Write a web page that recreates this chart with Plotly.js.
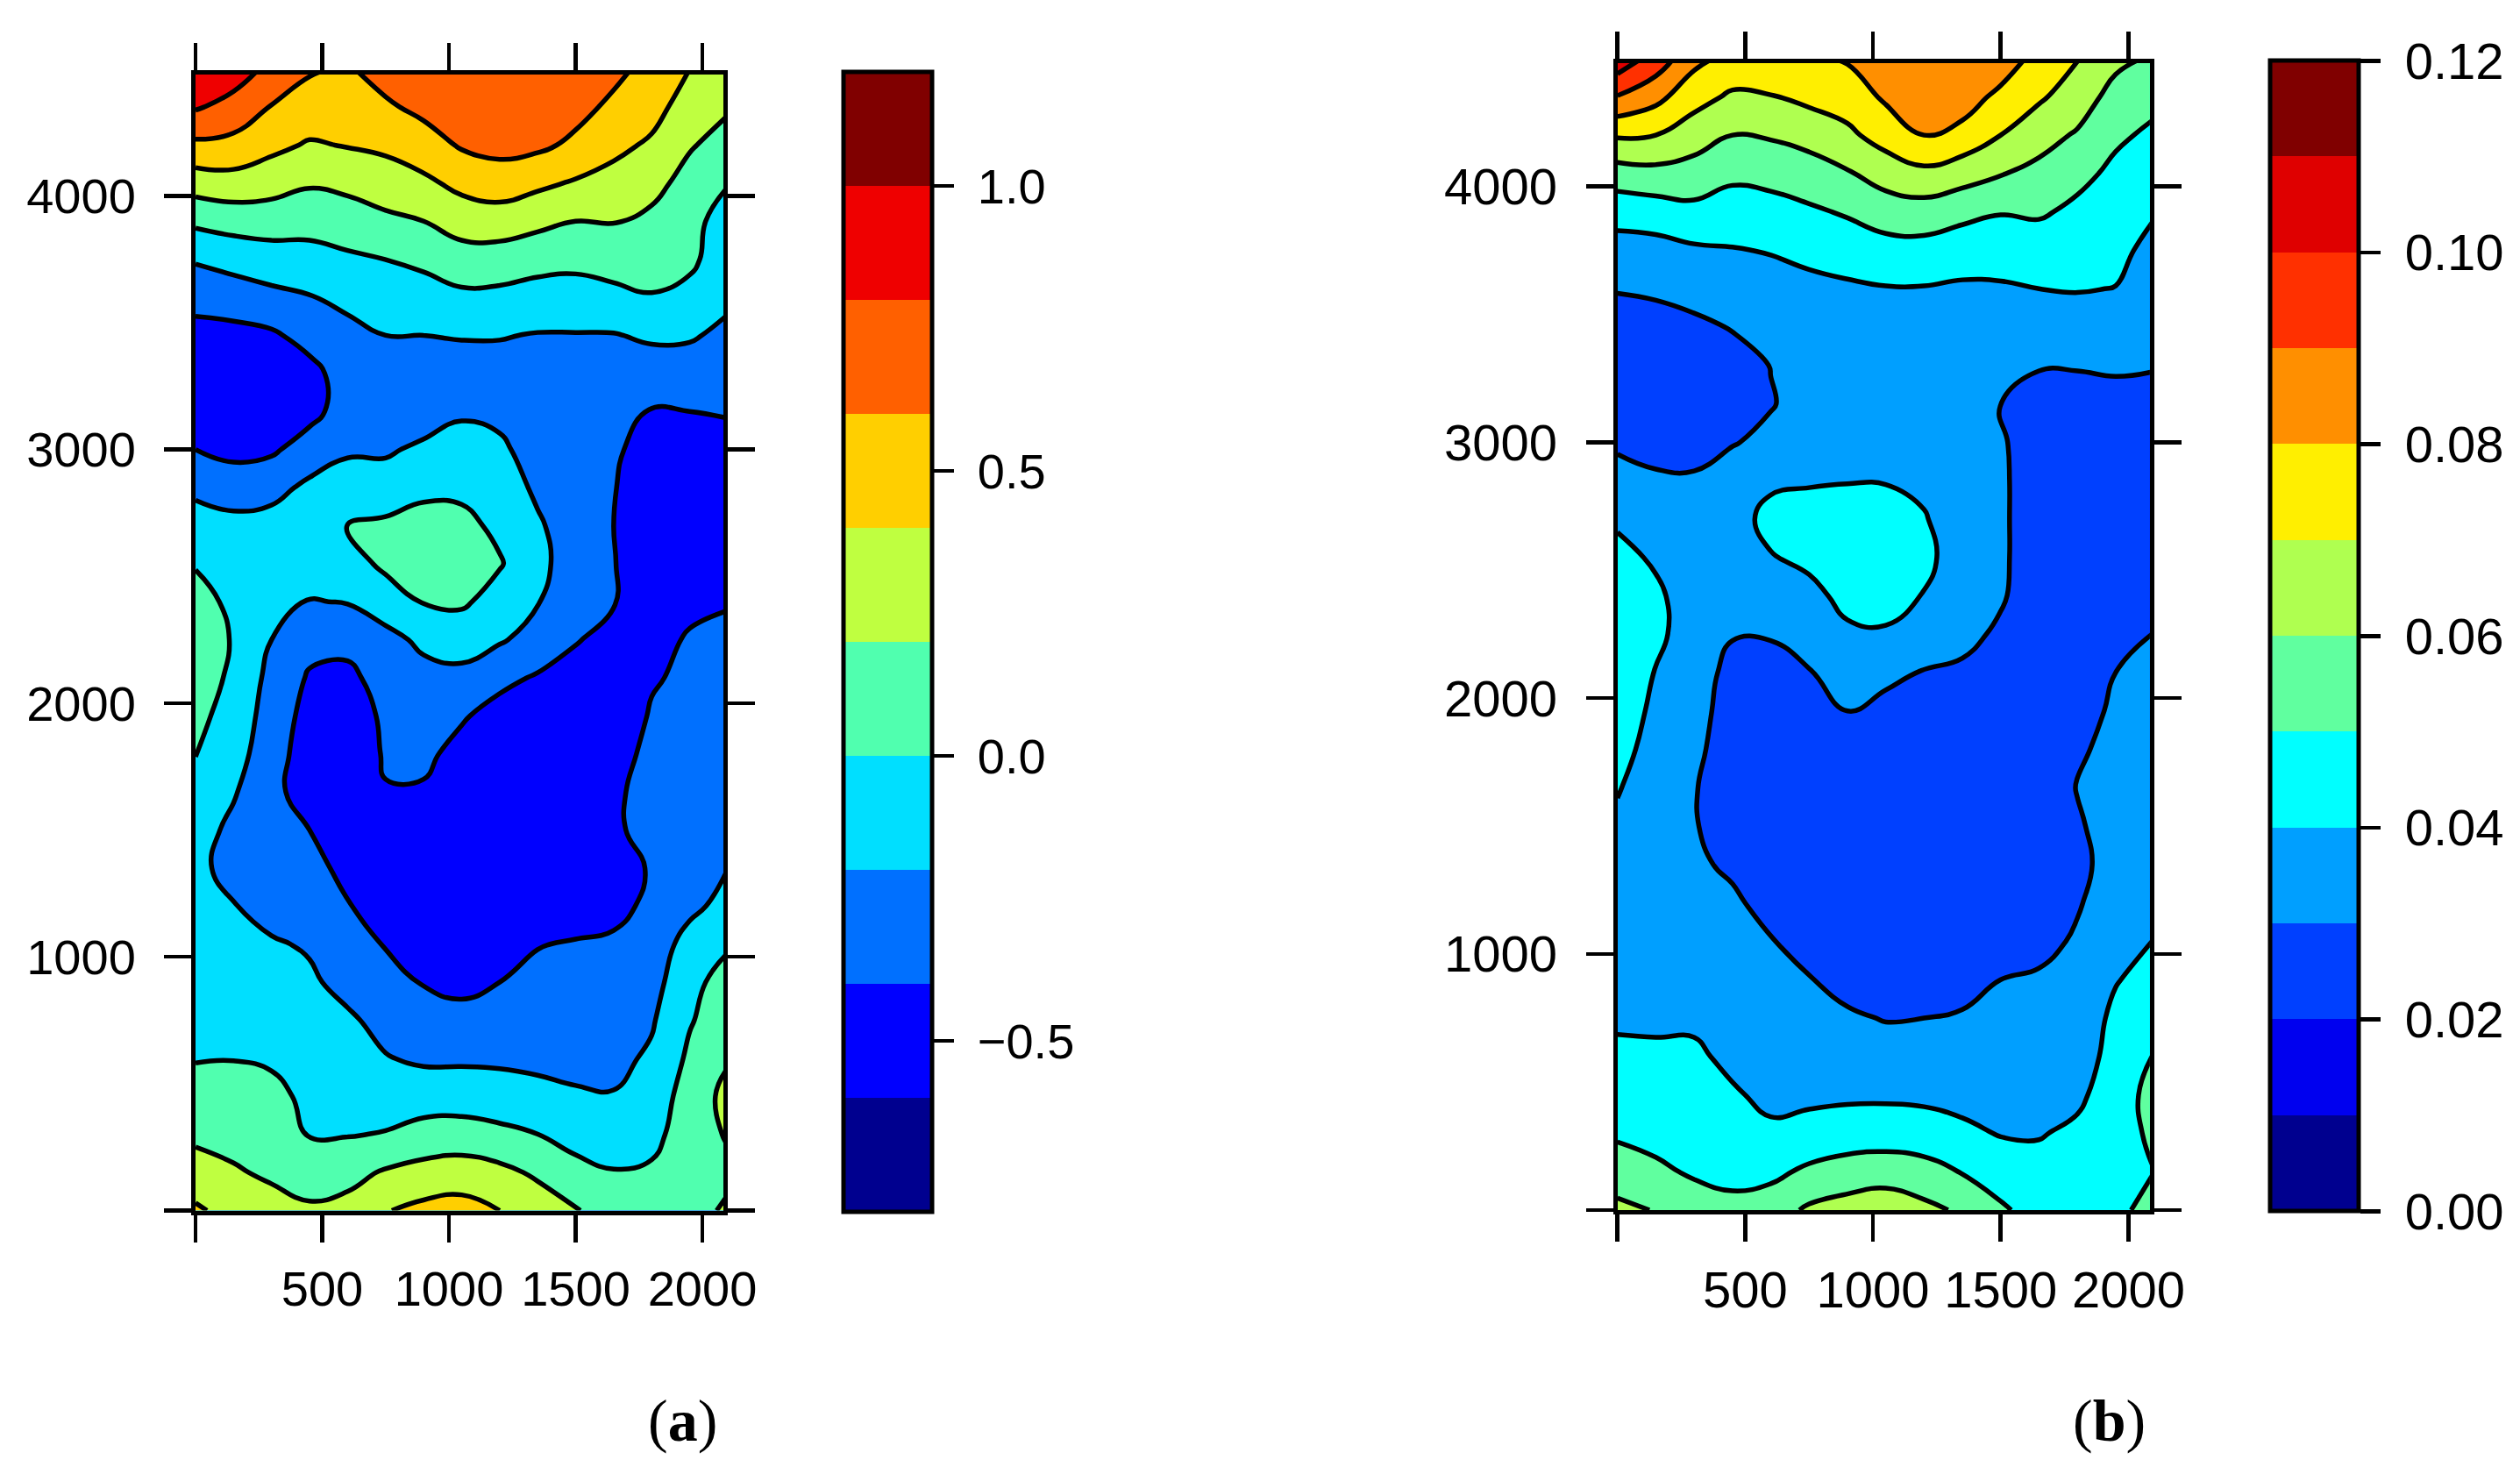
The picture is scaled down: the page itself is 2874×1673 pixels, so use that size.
<!DOCTYPE html>
<html><head><meta charset="utf-8">
<script src="https://cdn.plot.ly/plotly-3.0.1.min.js"></script>
<style>html,body{margin:0;padding:0;background:#fff}#c{width:2874px;height:1673px}</style>
</head><body><div id="c"></div>
<script>
var xValues=[0,150,300,450,600,750,900,1050,1200,1350,1500,1650,1800,1950,2092];
var yValues=[4500,4350,4200,4050,3900,3750,3600,3450,3300,3150,3000,2850,2700,2550,2400,2250,2100,1950,1800,1650,1500,1350,1200,1050,900,750,600,450,300,150,0];
// panel (a): one list per x position, top to bottom
var zaColumns=[
[.97,.82,.56,.29,.04,-.18,-.34,-.46,-.54,-.52,-.40,-.24,-.12,-.01,.05,.08,.08,.04,.005,-.06,-.11,-.14,-.14,-.12,-.09,-.05,-.01,.07,.16,.28,.43],
[.90,.73,.54,.32,.08,-.13,-.30,-.46,-.56,-.56,-.46,-.28,-.15,-.09,-.03,-.01,-.03,-.06,-.11,-.18,-.25,-.28,-.19,-.14,-.10,-.06,-.005,.07,.14,.22,.33],
[.75,.59,.45,.28,.09,-.09,-.25,-.43,-.52,-.54,-.43,-.26,-.13,-.09,-.14,-.20,-.26,-.30,-.33,-.37,-.37,-.34,-.27,-.18,-.13,-.09,-.03,.06,.10,.17,.27],
[.62,.52,.38,.22,.07,-.07,-.21,-.33,-.46,-.46,-.31,-.16,-.07,-.09,-.21,-.34,-.42,-.46,-.48,-.45,-.40,-.33,-.26,-.22,-.17,-.12,-.08,-.05,-.01,.11,.23],
[.58,.49,.41,.25,.10,-.03,-.15,-.26,-.31,-.31,-.22,-.13,.001,-.08,-.19,-.35,-.44,-.52,-.53,-.53,-.50,-.46,-.39,-.32,-.26,-.17,-.11,-.06,-.01,.14,.26],
[.68,.57,.44,.30,.16,.001,-.10,-.20,-.27,-.29,-.22,-.13,.04,.04,-.10,-.26,-.33,-.36,-.38,-.41,-.50,-.50,-.46,-.41,-.34,-.26,-.19,-.09,.01,.22,.39],
[.76,.65,.51,.36,.20,.04,-.08,-.20,-.28,-.28,-.17,-.05,.08,.12,.01,-.16,-.26,-.31,-.36,-.42,-.51,-.56,-.54,-.47,-.41,-.32,-.23,-.09,.07,.27,.45],
[.77,.72,.62,.45,.29,.11,-.04,-.19,-.27,-.22,-.14,-.04,.05,.10,.03,-.12,-.25,-.38,-.46,-.52,-.57,-.58,-.57,-.52,-.44,-.35,-.23,-.09,.08,.30,.47],
[.77,.71,.66,.50,.30,.11,-.05,-.19,-.27,-.24,-.17,-.08,-.04,.015,-.08,-.18,-.35,-.47,-.55,-.58,-.58,-.58,-.57,-.50,-.40,-.30,-.23,-.12,.05,.25,.40],
[.75,.72,.64,.44,.25,.07,-.08,-.21,-.27,-.29,-.27,-.24,-.17,-.13,-.19,-.27,-.42,-.50,-.57,-.58,-.58,-.58,-.55,-.41,-.34,-.29,-.24,-.15,.001,.17,.30],
[.72,.66,.56,.38,.20,.05,-.08,-.21,-.28,-.32,-.34,-.34,-.32,-.33,-.36,-.39,-.46,-.52,-.55,-.55,-.56,-.56,-.53,-.38,-.33,-.29,-.25,-.18,-.07,.06,.21],
[.65,.56,.45,.33,.21,.08,-.05,-.21,-.30,-.34,-.37,-.39,-.40,-.39,-.39,-.45,-.50,-.54,-.475,-.424,-.419,-.54,-.453,-.37,-.32,-.29,-.25,-.19,-.10,.01,.13],
[.54,.47,.37,.27,.15,.07,-.01,-.17,-.30,-.41,-.48,-.52,-.54,-.55,-.53,-.50,-.42,-.38,-.35,-.35,-.36,-.37,-.36,-.32,-.28,-.22,-.17,-.13,-.06,.03,.10],
[.40,.31,.22,.12,.04,.035,-.05,-.18,-.29,-.40,-.48,-.52,-.53,-.52,-.47,-.37,-.36,-.33,-.31,-.30,-.29,-.28,-.25,-.12,-.04,-.015,.035,.10,.11,.12,.14],
[.32,.23,.12,.01,-.05,-.09,-.16,-.24,-.31,-.39,-.45,-.47,-.48,-.47,-.41,-.37,-.35,-.33,-.31,-.28,-.25,-.21,-.14,-.02,.05,.10,.18,.24,.21,.16,.22]
];
// panel (b): one list per x position, top to bottom
var zbColumns=[
[.107,.0895,.0711,.0555,.0436,.0362,.0303,.0278,.0262,.0262,.0285,.0333,.0383,.0432,.0465,.0475,.0475,.0465,.0445,.0408,.0378,.0362,.0352,.035,.0355,.0385,.042,.0445,.0487,.0545,.0625],
[.096,.083,.070,.057,.045,.0365,.0315,.0265,.0235,.0235,.0265,.0315,.035,.0385,.042,.0425,.0395,.0375,.035,.0335,.0325,.0325,.0325,.0335,.035,.0385,.0415,.0445,.0475,.0515,.0595],
[.083,.0735,.065,.0555,.0475,.0385,.0335,.028,.0245,.0235,.0255,.0315,.0335,.0345,.0345,.0345,.034,.033,.032,.0305,.0305,.0315,.0325,.034,.0355,.0385,.0415,.0435,.046,.049,.054],
[.077,.0685,.060,.052,.0455,.0395,.0345,.0305,.0265,.0255,.0295,.034,.0365,.0365,.034,.0305,.0275,.0265,.0255,.0255,.0265,.0285,.0315,.033,.0345,.036,.038,.041,.044,.0475,.0525],
[.078,.0695,.061,.053,.0465,.0405,.0365,.0335,.0302,.0295,.032,.0385,.0425,.0395,.0345,.0305,.0275,.0255,.0245,.0235,.0235,.0245,.027,.0305,.0325,.0345,.036,.038,.0415,.0475,.0555],
[.079,.0725,.0635,.0555,.0485,.0425,.0375,.0345,.0325,.033,.0355,.039,.0445,.042,.0375,.0335,.0295,.0265,.0245,.0235,.0225,.0225,.024,.0265,.0305,.034,.0365,.0385,.0425,.052,.0615],
[.081,.0745,.068,.059,.051,.0445,.0385,.035,.0335,.0345,.0375,.0395,.0455,.0465,.0425,.0385,.0345,.030,.0265,.0245,.022,.0215,.022,.0245,.0265,.0315,.0355,.0385,.0445,.0545,.064],
[.087,.0815,.074,.0645,.0545,.0465,.0395,.0355,.034,.0345,.0365,.0395,.0445,.049,.045,.0385,.0325,.027,.0245,.0225,.021,.0205,.021,.0225,.0255,.0295,.0345,.0385,.045,.0555,.066],
[.089,.0855,.080,.0675,.0555,.0465,.0395,.0355,.0345,.0345,.0365,.0385,.0405,.0425,.0395,.0345,.0295,.0255,.0235,.022,.0205,.0201,.0205,.0225,.0255,.030,.0345,.038,.0445,.0535,.0625],
[.088,.0855,.0765,.0645,.0525,.045,.0385,.0355,.0345,.034,.0345,.0355,.036,.035,.034,.0325,.0285,.0255,.023,.0215,.0205,.0205,.0215,.0235,.0265,.031,.0345,.037,.042,.0495,.0585],
[.087,.0771,.070,.0605,.0505,.044,.039,.035,.032,.0298,.031,.0315,.0315,.0315,.031,.0285,.0265,.024,.022,.021,.0205,.0205,.0225,.027,.030,.032,.0345,.0365,.0395,.045,.0515],
[.076,.0715,.0635,.0575,.0512,.045,.040,.0355,.0305,.027,.0255,.025,.025,.025,.025,.0245,.0235,.0225,.0215,.0205,.0201,.0205,.0225,.0265,.0315,.0335,.035,.037,.0395,.0425,.046],
[.0705,.065,.059,.0525,.048,.044,.0405,.0355,.0305,.027,.0255,.025,.0245,.0245,.025,.025,.0255,.0265,.0285,.0305,.0285,.0265,.029,.0315,.0335,.0345,.036,.0385,.0415,.0435,.0455],
[.0625,.0565,.0515,.048,.0455,.0425,.0398,.035,.031,.0275,.026,.025,.025,.0255,.027,.028,.030,.0315,.033,.0345,.0355,.0355,.036,.0375,.0395,.042,.043,.044,.0445,.045,.047],
[.059,.0525,.0485,.0455,.041,.0375,.0355,.033,.0305,.0275,.026,.0255,.026,.0265,.028,.030,.0315,.0325,.0345,.0355,.0365,.0375,.0385,.040,.043,.0465,.050,.0535,.052,.0495,.054]
];
var bandsA=['#00008F','#0000FF','#0070FF','#00DFFF','#50FFAF','#BFFF40','#FFCF00','#FF6000','#EF0000','#800000'];
var bandsB=['#00008F','#0000EF','#0040FF','#009FFF','#00FFFF','#60FF9F','#AFFF50','#FFEF00','#FF8F00','#FF3000','#DF0000','#800000'];
var xTicks=[0,500,1000,1500,2000];
var xTickText=['','500','1000','1500','2000'];
var yTicks=[0,1000,2000,3000,4000];
var yTickText=['','1000','2000','3000','4000'];
var cbTicksA=[-0.5,0,0.5,1];
var cbTextA=['\u22120.5','0.0','0.5','1.0'];
var cbTicksB=[0,0.02,0.04,0.06,0.08,0.10,0.12];
var cbTextB=['0.00','0.02','0.04','0.06','0.08','0.10','0.12'];

var W=2874,H=1673;
function stepScale(c){var s=[];c.forEach(function(k,i){s.push([i/c.length,k]);s.push([(i+1)/c.length,k]);});return s;}
var FONT='"Liberation Sans",Arial,sans-serif';
function font(sz){return {family:FONT,size:sz,color:'#000'};}
function fillTrace(z,xa,ya,lo,hi,step,bands,cbX,cbTop,cbBot,ticks,text,sz){
 return {type:'contour',x:xValues,y:yValues,z:z,transpose:true,xaxis:xa,yaxis:ya,autocontour:false,
  zmin:lo,zmax:hi,colorscale:stepScale(bands),
  contours:{start:lo,end:hi,size:step,coloring:'fill',showlines:false},line:{width:0,smoothing:1.3},
  colorbar:{x:cbX/W,xref:'paper',xanchor:'left',xpad:0,ypad:0,thickness:101,thicknessmode:'pixels',
   len:(cbBot-cbTop)/H,lenmode:'fraction',y:1-cbBot/H,yref:'paper',yanchor:'bottom',
   outlinewidth:5,outlinecolor:'#000',borderwidth:0,ticks:'outside',ticklen:23,tickwidth:4.5,tickcolor:'#000',
   tickmode:'array',tickvals:ticks,ticktext:text.map(function(t){return '\u200B\u00A0'+t;}),tickfont:font(sz)},
  hoverinfo:'skip'};
}
function lineTrace(z,xa,ya,lo,hi,step){
 return {type:'contour',x:xValues,y:yValues,z:z,transpose:true,xaxis:xa,yaxis:ya,autocontour:false,showscale:false,
  contours:{start:lo,end:hi,size:step,coloring:'none'},line:{color:'#000',width:5.5,smoothing:1.3},hoverinfo:'skip'};
}
function axis(extra,vals,text,range,sz,standoff){
 return Object.assign({range:range,tickmode:'array',tickvals:vals,ticktext:text,ticks:'outside',ticklen:31,tickwidth:4.5,tickcolor:'#000',
  showline:true,linewidth:5,linecolor:'#000',mirror:'ticks',showgrid:false,zeroline:false,tickfont:font(sz),tickangle:0,ticklabelstandoff:standoff},extra);
}
var A={l:223,r:825,t:84.5,b:1380.5};
var B={l:1844.7,r:2451.9,t:71.5,b:1380};
var traces=[
 fillTrace(zaColumns,'x','y',-0.8,1.2,0.2,bandsA,961.7,82,1382,cbTicksA,cbTextA,56),
 lineTrace(zaColumns,'x','y',-0.8,1.2,0.2),
 fillTrace(zbColumns,'x2','y2',0,0.12,0.01,bandsB,2589,69,1381.3,cbTicksB,cbTextB,58),
 lineTrace(zbColumns,'x2','y2',0,0.12,0.01)
];
var layout={width:W,height:H,margin:{l:0,r:0,t:0,b:0,autoexpand:false},paper_bgcolor:'#fff',plot_bgcolor:'#fff',showlegend:false,
 xaxis:axis({domain:[A.l/W,A.r/W],anchor:'y'},xTicks,xTickText,[0,2083],56,5),
 yaxis:axis({domain:[1-A.b/H,1-A.t/H],anchor:'x'},yTicks,yTickText,[0,4480],56,21),
 xaxis2:axis({domain:[B.l/W,B.r/W],anchor:'y2'},xTicks,xTickText,[0,2084],58,5),
 yaxis2:axis({domain:[1-B.b/H,1-B.t/H],anchor:'x2'},yTicks,yTickText,[0,4483],58,21),
 annotations:[
  {text:'(<b>a</b>)',xref:'paper',yref:'paper',x:778/W,y:1-1620/H,xanchor:'center',yanchor:'middle',showarrow:false,font:{family:'"Liberation Serif",serif',size:68,color:'#000'}},
  {text:'(<b>b</b>)',xref:'paper',yref:'paper',x:2405/W,y:1-1620/H,xanchor:'center',yanchor:'middle',showarrow:false,font:{family:'"Liberation Serif",serif',size:68,color:'#000'}}
 ]};
Plotly.newPlot('c',traces,layout,{staticPlot:true,displayModeBar:false});
</script></body></html>
